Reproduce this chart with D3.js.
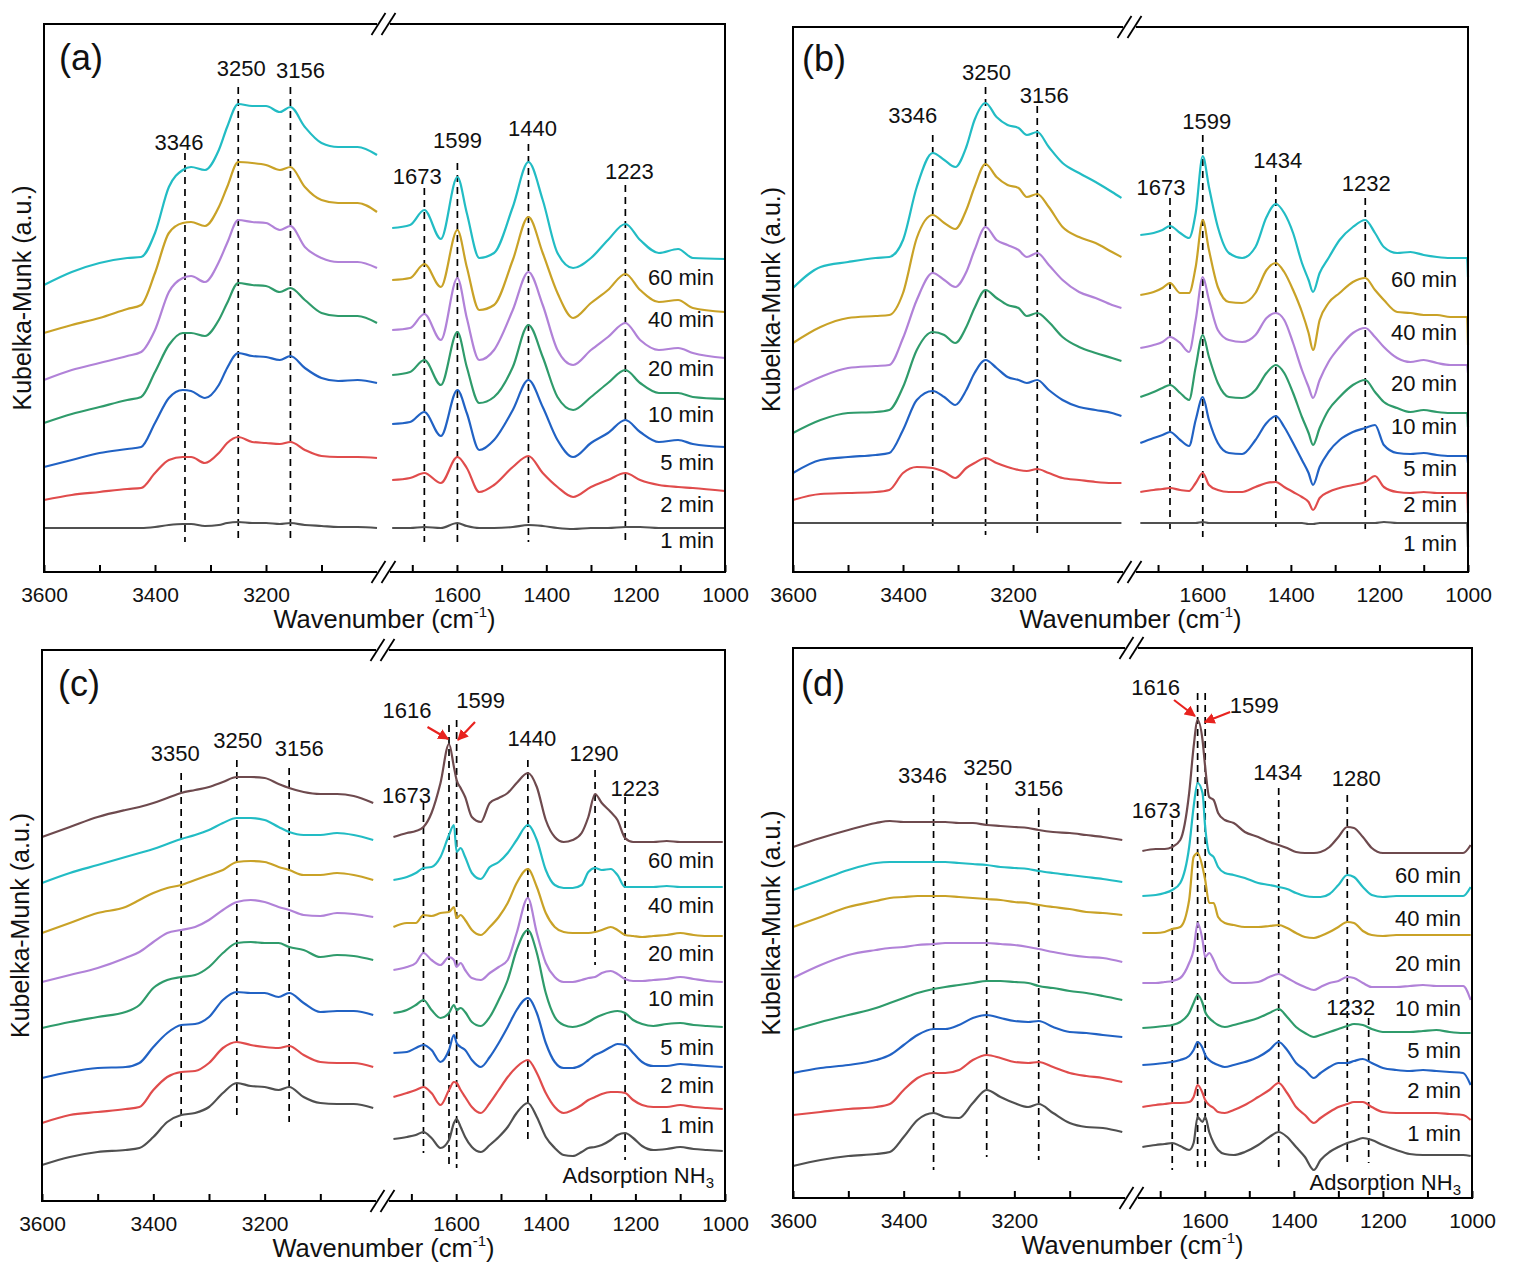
<!DOCTYPE html>
<html><head><meta charset="utf-8">
<script src="https://cdn.jsdelivr.net/npm/d3@7"></script>
<style>body{margin:0;background:#fff}svg{display:block}</style>
</head><body><svg id="chart" width="1516" height="1285"></svg>
<script>
// ---------- shared categories ----------
const labelsAB = ["60 min","40 min","20 min","10 min","5 min","2 min","1 min"];
const labelsCD = ["60 min","40 min","20 min","10 min","5 min","2 min","1 min","Adsorption NH3"];
const leftTicks = [3600,3500,3400,3300,3200,3100];
const rightTicks = [1700,1600,1500,1400,1300,1200,1100,1000];
const leftTickLabels = [3600,3400,3200];
const rightTickLabels = [1600,1400,1200,1000];

// ---------- panel (a) ----------
const wnA_L = [3600,3550,3500,3450,3425,3400,3375,3350,3335,3310,3285,3270,3250,3225,3200,3175,3156,3130,3100,3070,3035,3000];
const wnA_R = [1745,1705,1673,1636,1599,1578,1550,1517,1475,1440,1408,1375,1340,1300,1262,1223,1190,1148,1105,1072,1000];
const A_60_L = [287,300,309,314,315,339,385,402,405,402,422,445,468,466,466,460,465,445,429,425,425,417];
const A_60_R = [344,347,362,333,395,359,314,319,365,410,372,319,304,314,332,348,332,319,323,314,313];
const A_40_L = [239,247,254,263,267,299,339,349,350,346,365,385,410,409,407,402,405,385,372,369,369,360];
const A_40_R = [292,294,308,285,342,305,262,267,312,355,319,279,254,269,282,298,282,270,272,264,260];
const A_20_L = [192,202,209,216,220,242,280,294,296,290,310,329,352,350,349,342,346,325,314,310,310,304];
const A_20_R = [242,244,258,232,294,254,212,222,262,300,267,222,207,222,235,249,232,222,224,219,214];
const A_10_L = [149,158,165,172,175,200,227,239,239,236,252,269,289,287,286,280,284,272,259,256,256,249];
const A_10_R = [197,200,212,187,240,205,169,175,205,247,215,175,162,175,189,202,189,179,179,175,173];
const A_5_L = [105,112,119,123,125,149,174,182,181,174,187,204,219,216,215,212,216,204,194,191,192,189];
const A_5_R = [148,150,160,136,182,159,122,132,162,192,165,132,115,129,139,152,140,130,132,128,125];
const A_2_L = [72,77,80,83,84,99,112,115,115,109,119,129,135,130,129,128,130,122,116,115,115,114];
const A_2_R = [92,94,99,89,115,104,80,87,105,116,99,85,75,85,92,99,92,87,85,84,81];
const A_1_L = [44,44,44,44,44,45,47,48,48,46,47,49,50,49,49,48,49,47,46,45,45,44];
const A_1_R = [44,44,45,44,49,46,44,44,45,47,46,44,43,44,44,45,45,44,44,44,44];
const peaksA = [3346,3250,3156,1673,1599,1440,1223];
const peakTopA = [419,485,485,384,409,428,387];
const peakBotA = [30,30,30,30,30,30,30];

// ---------- panel (b) ----------
const wnB_L = [3600,3550,3500,3450,3425,3400,3375,3346,3325,3305,3285,3270,3250,3230,3210,3190,3175,3156,3135,3110,3080,3050,3020,3003];
const wnB_R = [1740,1710,1690,1673,1650,1630,1615,1599,1585,1565,1540,1510,1480,1455,1434,1415,1395,1375,1360,1350,1335,1315,1290,1260,1232,1210,1190,1160,1130,1100,1070,1040,1010,1002,1000];
const B_60_L = [284,305,310,314,315,332,385,419,412,405,425,452,469,455,447,444,437,440,425,409,399,390,380,374];
const B_60_R = [337,339,342,346,339,334,359,416,385,345,319,314,325,355,368,359,339,309,292,280,299,314,332,345,352,339,325,319,320,317,315,314,314,314,295];
const B_40_L = [229,245,254,256,257,279,334,357,349,343,362,385,408,395,387,384,375,378,365,345,335,329,320,315];
const B_40_R = [277,280,284,289,279,279,305,352,322,285,270,269,279,302,309,300,282,260,239,222,252,269,279,290,294,282,272,260,259,257,257,255,255,255,227];
const B_20_L = [182,195,204,206,207,234,272,299,292,285,300,322,345,332,327,322,315,319,307,292,280,274,267,264];
const B_20_R = [224,227,230,235,229,220,252,295,272,242,232,230,237,254,259,252,229,202,185,174,192,210,225,239,244,235,225,214,210,212,209,207,207,207,199];
const B_10_L = [139,152,159,160,162,185,222,240,237,229,245,264,282,274,267,264,256,259,250,235,225,219,214,211];
const B_10_R = [175,180,184,187,179,172,205,237,215,189,175,174,182,199,207,199,179,155,139,127,144,162,175,187,192,180,170,164,160,162,160,159,159,159,145];
const B_5_L = [99,112,115,117,119,142,172,181,175,167,182,199,212,204,195,192,189,192,182,172,165,162,159,156];
const B_5_R = [129,134,137,140,132,126,152,175,152,129,119,118,132,149,156,145,129,112,99,87,105,120,132,140,144,147,127,119,118,119,117,116,116,116,109];
const B_2_L = [72,78,79,80,82,99,105,104,100,94,104,109,114,109,105,102,101,103,99,94,92,90,89,89];
const B_2_R = [80,82,83,84,82,81,89,99,87,82,80,80,85,89,90,85,80,75,70,62,74,80,84,87,90,96,85,80,79,80,79,79,79,79,59];
const B_1_L = [49,49,49,49,49,49,49,49,49,49,49,49,49,49,49,49,49,49,49,49,49,49,49,49];
const B_1_R = [49,49,49,49,49,49,49,50,49,49,49,49,49,49,49,49,49,49,48,48,49,49,49,49,49,49,50,49,49,49,49,49,49,49,25];
const peaksB = [3346,3250,3156,1673,1599,1434,1232];
const peakTopB = [437,485,466,374,437,397,374];
const peakBotB = [45,37,37,42,35,45,42];

// ---------- panel (c) ----------
const wnC_L = [3600,3550,3500,3450,3425,3400,3375,3350,3325,3300,3275,3250,3225,3200,3175,3156,3130,3100,3070,3040,3005];
const wnC_R = [1740,1710,1690,1673,1655,1635,1616,1605,1599,1590,1580,1565,1545,1525,1505,1485,1465,1440,1420,1400,1380,1360,1340,1320,1305,1290,1275,1255,1240,1223,1205,1185,1160,1130,1100,1070,1040,1005];
const C_60_L = [364,374,384,391,394,398,403,408,411,414,419,424,424,423,417,413,409,407,407,405,398];
const C_60_R = [364,368,370,374,388,418,457,434,421,413,404,384,379,398,403,408,418,428,414,381,364,359,361,368,384,407,398,389,381,363,359,359,359,360,359,359,359,359];
const C_40_L = [318,328,336,344,348,352,357,362,366,371,378,383,383,381,374,369,366,366,368,366,361];
const C_40_R = [321,324,328,333,334,344,366,376,349,353,344,328,322,334,339,348,361,376,361,331,316,313,313,316,329,333,331,332,326,314,314,314,314,315,314,314,314,314];
const C_20_L = [268,278,288,294,301,308,313,316,321,326,331,339,340,339,334,331,326,326,328,326,321];
const C_20_R = [274,278,278,286,285,288,289,294,283,286,281,271,266,274,284,298,318,332,314,288,274,269,268,268,268,269,271,274,271,266,265,264,265,266,268,266,265,265];
const C_10_L = [219,226,233,243,249,259,268,271,274,281,291,299,301,299,294,291,286,285,288,287,284];
const C_10_R = [231,234,238,248,241,236,244,241,234,238,231,223,221,228,234,241,268,303,268,238,224,219,219,221,223,224,228,230,227,222,220,220,221,222,224,222,220,219];
const C_5_L = [173,179,184,189,196,213,221,224,226,234,248,258,259,258,258,254,251,244,246,245,241];
const C_5_R = [188,191,196,201,191,183,188,196,191,193,189,179,175,184,201,221,251,271,248,208,184,176,174,176,179,183,186,189,190,188,181,177,175,177,178,176,175,174];
const C_2_L = [123,129,133,134,138,154,168,176,177,184,201,209,208,208,204,208,198,189,190,190,186];
const C_2_R = [148,149,153,156,151,139,151,166,158,154,151,141,134,144,158,174,191,203,188,158,139,133,133,136,141,146,149,154,157,156,148,139,135,135,137,136,135,134];
const C_1_L = [78,86,89,92,94,111,124,129,130,138,153,159,156,154,153,155,146,139,138,138,134];
const C_1_R = [104,108,111,114,108,96,111,119,118,111,104,94,88,98,111,124,134,141,128,108,94,88,91,96,101,104,107,109,109,108,101,96,94,94,96,94,93,92];
const C_0_L = [36,44,49,51,53,64,79,86,88,94,108,118,115,114,111,114,104,98,97,97,93];
const C_0_R = [62,64,66,69,63,53,61,78,82,74,64,54,49,56,64,74,88,98,84,64,53,46,45,49,53,54,56,61,66,68,63,55,51,52,54,52,51,50];
const peaksC = [3350,3250,3156,1673,1616,1599,1440,1290,1223];
const peakTopC = [428,441,433,398,476,481,441,431,404];
const peakBotC = [74,83,79,48,33,33,58,236,41];
const arrowsC = [[1664,474,1618,462],[1558,479,1596,461]];

// ---------- panel (d) ----------
const wnD_L = [3600,3550,3500,3450,3425,3400,3375,3346,3325,3300,3275,3250,3225,3200,3175,3156,3130,3100,3070,3040,3005];
const wnD_R = [1740,1710,1690,1673,1655,1635,1625,1616,1605,1599,1590,1580,1570,1555,1535,1510,1480,1455,1434,1415,1395,1375,1355,1340,1320,1300,1280,1265,1245,1225,1200,1170,1140,1110,1080,1050,1020,1003];
const D_60_L = [351,360,368,375,377,376,376,376,376,375,375,373,372,371,370,368,366,365,363,361,358];
const D_60_R = [347,349,349,351,358,405,451,478,458,431,401,398,385,378,375,366,361,356,353,350,346,345,345,346,351,361,371,370,361,350,345,345,345,345,345,345,345,353];
const D_40_L = [308,318,328,335,336,336,336,336,336,335,334,333,331,330,329,327,325,323,321,319,316];
const D_40_R = [302,303,305,308,315,351,391,415,405,371,345,341,331,325,323,320,315,313,311,309,305,302,301,301,304,313,323,321,311,303,301,302,302,302,302,302,302,311];
const D_20_L = [271,281,291,297,300,301,302,302,302,301,300,299,298,296,295,293,291,289,286,285,283];
const D_20_R = [265,265,266,269,271,298,341,345,331,318,295,295,281,275,273,271,271,272,273,270,265,261,260,262,266,271,276,275,267,263,262,263,263,263,263,263,263,263];
const D_10_L = [220,233,243,248,250,251,253,254,255,255,255,255,254,253,251,249,246,243,241,240,236];
const D_10_R = [215,215,216,217,220,235,248,275,258,241,245,238,228,220,215,215,216,221,224,220,215,211,208,211,215,217,221,220,215,211,211,211,212,213,212,212,212,198];
const D_5_L = [168,176,183,190,195,200,205,209,211,213,215,217,217,216,215,212,210,207,205,202,198];
const D_5_R = [170,171,172,173,176,185,195,203,195,186,180,176,173,171,173,176,180,185,189,181,171,165,161,163,166,169,172,174,173,169,166,166,166,167,168,166,165,165];
const D_2_L = [125,130,133,138,143,153,163,169,169,173,180,183,180,177,176,177,171,166,165,163,161];
const D_2_R = [133,134,135,136,138,142,148,156,150,143,138,135,133,131,133,136,141,148,156,148,135,128,120,125,131,135,135,137,139,135,130,128,127,128,127,126,125,113];
const D_1_L = [83,86,89,91,94,108,120,125,125,128,138,143,140,136,135,136,131,125,122,120,116];
const D_1_R = [91,93,94,95,95,96,101,113,105,98,93,90,86,85,88,93,101,108,115,105,91,83,75,80,86,91,94,96,96,91,86,85,85,85,85,84,83,78];
const D_0_L = [32,38,42,44,46,61,78,85,81,80,95,108,101,95,91,94,85,75,71,70,66];
const D_0_R = [51,53,54,55,52,48,55,81,76,81,66,55,48,44,43,46,53,61,66,61,51,41,28,38,46,51,55,57,60,58,53,48,44,43,43,43,43,42];
const peaksD = [3346,3250,3156,1673,1616,1599,1434,1280,1232];
const peakTopD = [403,415,390,378,505,505,410,403,180];
const peakBotD = [28,41,38,28,31,31,26,35,35];
const arrowsD = [[1669,498,1622,482],[1543,486,1600,476]];

// ---------- styles / layout ----------
const FONT = '"Liberation Sans", Arial, Helvetica, sans-serif';
const COL = {brown:"#6e4a4e", cyan:"#22bcc4", gold:"#c9a227", purple:"#b182d8", green:"#2f9b6b", blue:"#2162c4", red:"#e04c4c", gray:"#505050"};
const colorsAB = [COL.cyan, COL.gold, COL.purple, COL.green, COL.blue, COL.red, COL.gray];
const colorsCD = [COL.brown, COL.cyan, COL.gold, COL.purple, COL.green, COL.blue, COL.red, COL.gray];

const panels = [
  {tag:"(a)", box:{x0:44,x1:725,y0:24,y1:572}, tagPos:[15,46], wnL:wnA_L, wnR:wnA_R,
   L:[A_60_L,A_40_L,A_20_L,A_10_L,A_5_L,A_2_L,A_1_L], R:[A_60_R,A_40_R,A_20_R,A_10_R,A_5_R,A_2_R,A_1_R],
   names:labelsAB, colors:colorsAB, timeY:[295,253,204,158,110,68,32],
   peaks:peaksA, top:peakTopA, bot:peakBotA, ldx:[-6,3,10,-7,0,4,4], ly:[422,496,494,388,424,436,393], arrows:[]},
  {tag:"(b)", box:{x0:793,x1:1468,y0:27,y1:572}, tagPos:[9,44], wnL:wnB_L, wnR:wnB_R,
   L:[B_60_L,B_40_L,B_20_L,B_10_L,B_5_L,B_2_L,B_1_L], R:[B_60_R,B_40_R,B_20_R,B_10_R,B_5_R,B_2_R,B_1_R],
   names:labelsAB, colors:colorsAB, timeY:[293,240,189,146,104,68,29],
   peaks:peaksB, top:peakTopB, bot:peakBotB, ldx:[-20,1,7,-9,4,2,1], ly:[449,492,469,377,443,404,381], arrows:[]},
  {tag:"(c)", box:{x0:42,x1:725,y0:650,y1:1201}, tagPos:[16,46], wnL:wnC_L, wnR:wnC_R,
   L:[C_60_L,C_40_L,C_20_L,C_10_L,C_5_L,C_2_L,C_1_L,C_0_L], R:[C_60_R,C_40_R,C_20_R,C_10_R,C_5_R,C_2_R,C_1_R,C_0_R],
   names:labelsCD, colors:colorsCD, timeY:[341,296,248,203,154,116,76,26],
   peaks:peaksC, top:peakTopC, bot:peakBotC, ldx:[-6,1,10,-17,-42,24,4,-1,10], ly:[440,453,445,398,483,493,455,440,405], arrows:arrowsC},
  {tag:"(d)", box:{x0:793,x1:1472,y0:648,y1:1198}, tagPos:[8,48], wnL:wnD_L, wnR:wnD_R,
   L:[D_60_L,D_40_L,D_20_L,D_10_L,D_5_L,D_2_L,D_1_L,D_0_L], R:[D_60_R,D_40_R,D_20_R,D_10_R,D_5_R,D_2_R,D_1_R,D_0_R],
   names:labelsCD, colors:colorsCD, timeY:[323,280,235,190,148,108,65,16],
   peaks:peaksD, top:peakTopD, bot:peakBotD, ldx:[-11,1,0,-16,-42,49,-1,9,-18], ly:[415,423,402,380,503,485,418,412,183], arrows:arrowsD}
];

const svg = d3.select("#chart");
svg.append("rect").attr("width",1516).attr("height",1285).attr("fill","#fff");
const defs = svg.append("defs");
defs.append("marker").attr("id","arrowRed").attr("viewBox","0 0 10 10").attr("refX",9).attr("refY",5)
  .attr("markerWidth",5).attr("markerHeight",5).attr("orient","auto")
  .append("path").attr("d","M0,0 L10,5 L0,10 z").attr("fill","#e8231f");

panels.forEach(p => {
  const {x0,x1,y0,y1} = p.box;
  const Wd = x1 - x0;
  const brkL = x0 + 0.489*Wd, brkR = x0 + 0.508*Wd;
  const xL = d3.scaleLinear().domain([3600,3000]).range([x0, brkL]);
  const xR = d3.scaleLinear().domain([1750,1000]).range([brkR, x1]);
  const y = d3.scaleLinear().domain([0, y1-y0]).range([y1, y0]);
  const xOf = wn => wn >= 2500 ? xL(wn) : xR(wn);
  const g = svg.append("g");

  // dashed peak markers
  p.peaks.forEach((wn,i) => {
    g.append("line").attr("x1",xOf(wn)).attr("x2",xOf(wn)).attr("y1",y(p.top[i])).attr("y2",y(p.bot[i]))
      .attr("stroke","#000").attr("stroke-width",1.7).attr("stroke-dasharray","7,5");
    g.append("text").attr("x",xOf(wn)+p.ldx[i]).attr("y",y(p.ly[i])).attr("text-anchor","middle")
      .attr("font-family",FONT).attr("font-size",22).attr("fill","#111").text(wn);
  });

  // spectra
  p.L.forEach((vals,k) => {
    const lineL = d3.line().x((d,i)=>xL(p.wnL[i])).y(d=>y(d)).curve(d3.curveMonotoneX);
    const lineR = d3.line().x((d,i)=>xR(p.wnR[i])).y(d=>y(d)).curve(d3.curveMonotoneX);
    g.append("path").attr("d",lineL(vals)).attr("fill","none").attr("stroke",p.colors[k]).attr("stroke-width",2.2).attr("stroke-linejoin","round");
    g.append("path").attr("d",lineR(p.R[k])).attr("fill","none").attr("stroke",p.colors[k]).attr("stroke-width",2.2).attr("stroke-linejoin","round");
  });

  // time labels
  p.names.forEach((nm,k) => {
    const t = g.append("text").attr("x",x1-11).attr("y",y(p.timeY[k])+7.5).attr("text-anchor","end")
      .attr("font-family",FONT).attr("font-size",22).attr("fill","#111");
    if (nm === "Adsorption NH3") {
      t.append("tspan").text("Adsorption NH");
      t.append("tspan").attr("font-size",15).attr("dy",5).text("3");
    } else t.text(nm);
  });

  // red arrows
  p.arrows.forEach(a => {
    g.append("line").attr("x1",xR(a[0])).attr("y1",y(a[1])).attr("x2",xR(a[2])).attr("y2",y(a[3]))
      .attr("stroke","#e8231f").attr("stroke-width",2.2).attr("marker-end","url(#arrowRed)");
  });

  // frame with break
  const fr = g.append("g").attr("stroke","#000").attr("stroke-width",2).attr("fill","none");
  fr.append("path").attr("d",`M${brkL},${y0} H${x0} V${y1} H${brkL}`);
  fr.append("path").attr("d",`M${brkR},${y0} H${x1} V${y1} H${brkR}`);
  const cx = (brkL+brkR)/2;
  [y0,y1].forEach(yy => {
    [-5,5].forEach(o => {
      fr.append("line").attr("x1",cx+o-7).attr("y1",yy+11).attr("x2",cx+o+7).attr("y2",yy-11).attr("stroke-width",1.8);
    });
  });

  // axes
  const axL = d3.axisBottom(xL).tickValues(leftTicks).tickSizeInner(-7).tickSizeOuter(0).tickPadding(15)
    .tickFormat(d => leftTickLabels.includes(d) ? d : "");
  const axR = d3.axisBottom(xR).tickValues(rightTicks).tickSizeInner(-7).tickSizeOuter(0).tickPadding(15)
    .tickFormat(d => rightTickLabels.includes(d) ? d : "");
  [axL, axR].forEach(ax => {
    const ag = g.append("g").attr("transform",`translate(0,${y1})`).call(ax);
    ag.select(".domain").remove();
    ag.selectAll("line").attr("stroke","#000").attr("stroke-width",2);
    ag.selectAll("text").attr("font-family",FONT).attr("font-size",21).attr("fill","#111");
  });

  // axis titles
  const xt = g.append("text").attr("x",(x0+x1)/2).attr("y",y1+56).attr("text-anchor","middle")
    .attr("font-family",FONT).attr("font-size",25.5).attr("fill","#111");
  xt.append("tspan").text("Wavenumber (cm");
  xt.append("tspan").attr("font-size",15).attr("dy",-11).text("-1");
  xt.append("tspan").attr("dy",11).text(")");
  g.append("text").attr("transform",`translate(${x0-22},${(y0+y1)/2}) rotate(-90)`).attr("text-anchor","middle")
    .attr("dominant-baseline","central").attr("font-family",FONT).attr("font-size",25).attr("fill","#111")
    .text("Kubelka-Munk (a.u.)");

  // panel tag
  g.append("text").attr("x",x0+p.tagPos[0]).attr("y",y0+p.tagPos[1]).attr("font-family",FONT)
    .attr("font-size",36).attr("fill","#111").text(p.tag);
});
</script></body></html>
